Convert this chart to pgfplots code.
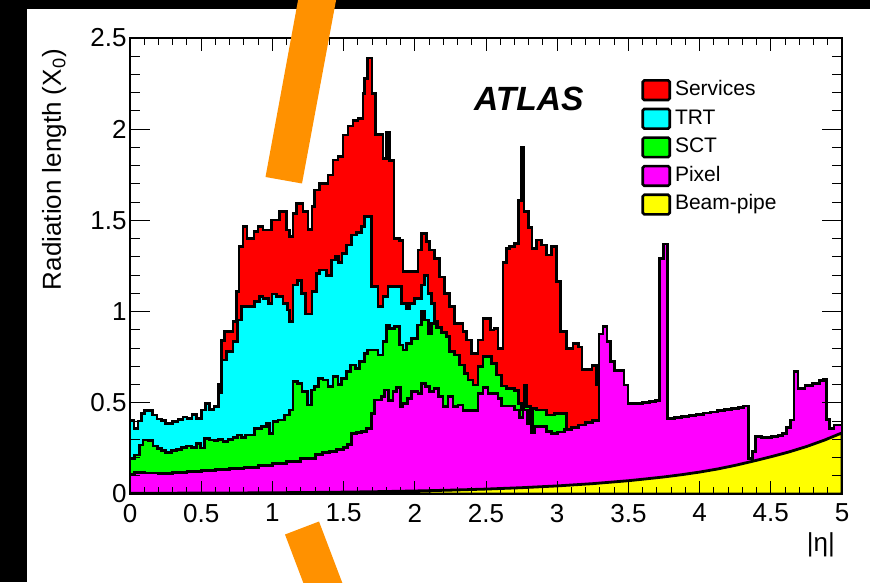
\documentclass[border=0pt]{standalone}
\usepackage{fontspec}
\setmainfont{Liberation Sans}
\usepackage{pgfplots}
\pgfplotsset{compat=1.18}
\definecolor{barorange}{RGB}{255,145,0}
\definecolor{rootred}{RGB}{255,0,0}
\definecolor{rootcyan}{RGB}{0,255,255}
\definecolor{rootgreen}{RGB}{0,255,0}
\definecolor{rootmagenta}{RGB}{255,0,255}
\definecolor{rootyellow}{RGB}{255,255,0}
\begin{document}
\begin{tikzpicture}
\useasboundingbox (0pt,0pt) rectangle (435pt,291pt);
\fill[black] (0pt,0pt) rectangle (435pt,291pt);
\fill[white] (13.5pt,0pt) rectangle (435pt,286.5pt);
\begin{axis}[
  at={(65pt,44pt)}, anchor=south west,
  width=356pt, height=228pt, scale only axis,
  xmin=0, xmax=5, ymin=0, ymax=2.5,
  xtick={0,0.5,...,5}, ytick={0,0.5,...,2.5},
  minor tick num=4,
  tick align=inside,
  axis on top,
  axis line style={line width=0.9pt},
  every tick/.style={black, line width=0.5pt},
  major x tick style={/pgfplots/major tick length=6.5pt},
  minor x tick style={/pgfplots/minor tick length=3.5pt},
  major y tick style={/pgfplots/major tick length=10pt},
  minor y tick style={/pgfplots/minor tick length=5pt},
  /pgf/number format/assume math mode=true,
  ticklabel style={font=\fontsize{13}{15}\selectfont},
  xticklabel style={yshift=-1.5pt},
  yticklabel style={xshift=1.8pt},
  xlabel={|η|},
  xlabel style={at={(axis description cs:1,-0.127)}, anchor=base east, font=\fontsize{13}{15}\selectfont},
  ylabel={Radiation length (X\textsubscript{0})},
  ylabel style={at={(axis description cs:-0.097,0.991)}, anchor=base east, font=\fontsize{13}{15}\selectfont},
  legend style={at={(axis description cs:0.7177,0.9167)}, anchor=north west, draw=none, fill=none,
    font=\fontsize{10.5}{12.6}\selectfont, inner sep=0pt, row sep=0.5pt,
    nodes={text height=7.6pt, text depth=2.2pt, inner sep=2pt}},
  legend cell align=left,
  legend image code/.code={\draw[#1, line width=1.3pt, rounded corners=0.8pt] (0pt,-4.9pt) rectangle (13.5pt,4.9pt);},
]
% Services (total)
\addplot[const plot, fill=rootred, draw=black, line width=1.4pt] coordinates {
(0,0.406) (0.028,0.36) (0.056,0.40) (0.08,0.442) (0.103,0.457) (0.16,0.433) (0.19,0.411) (0.22,0.402)
(0.25,0.387) (0.30,0.398) (0.337,0.407) (0.372,0.422) (0.40,0.415) (0.435,0.437) (0.466,0.415) (0.50,0.46)
(0.53,0.497) (0.56,0.464) (0.59,0.479) (0.62,0.603) (0.64,0.84) (0.665,0.89) (0.723,0.945) (0.747,1.11)
(0.765,1.356) (0.794,1.466) (0.822,1.40) (0.871,1.438) (0.899,1.466) (0.934,1.447) (0.993,1.502) (1.051,1.548)
(1.098,1.447) (1.121,1.41) (1.145,1.539) (1.168,1.594) (1.215,1.548) (1.25,1.45) (1.278,1.575) (1.297,1.667)
(1.332,1.703) (1.39,1.749) (1.426,1.831) (1.461,1.85) (1.496,1.968) (1.531,2.018) (1.566,2.047) (1.601,2.06)
(1.636,2.197) (1.648,2.28) (1.67,2.39) (1.70,2.197) (1.723,1.972) (1.777,1.84) (1.80,1.98) (1.824,1.83)
(1.854,1.40) (1.894,1.39) (1.917,1.219) (2.022,1.338) (2.046,1.429) (2.081,1.383) (2.104,1.338) (2.14,1.29)
(2.175,1.19) (2.21,1.10) (2.245,1.027) (2.28,0.936) (2.338,0.89) (2.362,0.844) (2.397,0.771) (2.444,0.844)
(2.479,0.963) (2.533,0.899) (2.556,0.908) (2.584,0.799) (2.619,1.268) (2.643,1.347) (2.666,1.356) (2.701,1.374)
(2.729,1.608) (2.748,1.90) (2.767,1.548) (2.80,1.46) (2.823,1.347) (2.854,1.393) (2.889,1.365) (2.924,1.31)
(2.959,1.356) (2.994,1.164) (3.024,0.89) (3.064,0.799) (3.111,0.826) (3.15,0.806) (3.174,0.683) (3.244,0.706)
(3.275,0.60) (3.294,0.60)
} \closedcycle;
\addlegendentry{Services}
% TRT (cumulative)
\addplot[const plot, fill=rootcyan, draw=black, line width=1.4pt] coordinates {
(0,0.406) (0.028,0.36) (0.056,0.40) (0.08,0.442) (0.103,0.457) (0.16,0.433) (0.19,0.411) (0.22,0.402)
(0.25,0.387) (0.30,0.398) (0.337,0.407) (0.372,0.422) (0.40,0.415) (0.435,0.437) (0.466,0.415) (0.50,0.46)
(0.53,0.497) (0.56,0.464) (0.59,0.479) (0.62,0.556) (0.64,0.735) (0.677,0.78) (0.723,0.835) (0.754,0.954)
(0.782,1.027) (0.875,1.054) (0.911,1.082) (0.934,1.073) (0.974,1.045) (0.997,1.096) (1.028,1.082) (1.074,1.045)
(1.105,1.009) (1.121,0.945) (1.145,1.146) (1.175,1.17) (1.203,1.10) (1.231,0.987) (1.278,1.109) (1.309,1.21)
(1.332,1.228) (1.379,1.20) (1.414,1.283) (1.442,1.305) (1.465,1.268) (1.489,1.32) (1.519,1.365) (1.554,1.42)
(1.589,1.433) (1.625,1.466) (1.648,1.52) (1.695,1.137) (1.742,1.027) (1.777,1.082) (1.812,1.137) (1.905,1.045)
(1.94,1.018) (1.964,1.045) (1.999,1.073) (2.046,1.146) (2.07,1.20) (2.093,1.10) (2.116,1.045) (2.14,0.945)
(2.163,0.945)
} \closedcycle;
\addlegendentry{TRT}
% SCT (cumulative)
\addplot[const plot, fill=rootgreen, draw=black, line width=1.4pt] coordinates {
(0,0.196) (0.033,0.214) (0.068,0.269) (0.091,0.296) (0.126,0.292) (0.162,0.263) (0.192,0.25) (0.22,0.238)
(0.25,0.227) (0.29,0.238) (0.325,0.245) (0.36,0.254) (0.396,0.263) (0.431,0.256) (0.466,0.278) (0.496,0.252)
(0.524,0.305) (0.559,0.296) (0.59,0.292) (0.618,0.30) (0.653,0.287) (0.688,0.30) (0.723,0.311) (0.754,0.323)
(0.782,0.311) (0.81,0.323) (0.875,0.36) (0.922,0.369) (0.957,0.387) (0.981,0.333) (1.004,0.397) (1.039,0.406)
(1.086,0.433) (1.121,0.461) (1.145,0.616) (1.175,0.607) (1.208,0.561) (1.245,0.488) (1.273,0.57) (1.297,0.588)
(1.325,0.634) (1.355,0.625) (1.39,0.588) (1.426,0.643) (1.461,0.60) (1.484,0.634) (1.519,0.671) (1.55,0.707)
(1.583,0.689) (1.613,0.726) (1.648,0.771) (1.667,0.79) (1.742,0.762) (1.777,0.835) (1.80,0.927) (1.824,0.908)
(1.859,0.917) (1.894,0.817) (1.917,0.79) (1.94,0.826) (1.976,0.853) (2.018,0.927) (2.046,1.0) (2.07,0.954)
(2.098,0.88) (2.116,0.936) (2.151,0.914) (2.186,0.885) (2.221,0.863) (2.245,0.78) (2.28,0.762) (2.315,0.707)
(2.35,0.662) (2.374,0.625) (2.409,0.598) (2.444,0.698) (2.479,0.753) (2.538,0.716) (2.573,0.652) (2.608,0.592)
(2.643,0.579) (2.701,0.567) (2.729,0.497) (2.748,0.464) (2.767,0.598) (2.783,0.479) (2.813,0.342) (2.83,0.47)
(2.854,0.461) (2.924,0.433) (2.983,0.442) (3.064,0.442)
} \closedcycle;
\addlegendentry{SCT}
% Pixel (cumulative)
\addplot[const plot, fill=rootmagenta, draw=black, line width=1.4pt] coordinates {
(0,0.108) (0.03,0.117) (0.1,0.115) (0.2,0.113) (0.3,0.118) (0.4,0.122) (0.5,0.128) (0.6,0.133)
(0.7,0.14) (0.8,0.147) (0.9,0.157) (1.0,0.167) (1.1,0.18) (1.2,0.195) (1.3,0.218) (1.35,0.228)
(1.4,0.232) (1.45,0.245) (1.5,0.255) (1.53,0.27) (1.554,0.333) (1.59,0.338) (1.625,0.342) (1.66,0.36)
(1.695,0.442) (1.718,0.515) (1.765,0.534) (1.788,0.57) (1.816,0.512) (1.847,0.561) (1.87,0.585) (1.898,0.479)
(1.917,0.497) (1.948,0.524) (1.976,0.561) (2.022,0.552) (2.046,0.607) (2.074,0.588) (2.104,0.561) (2.135,0.579)
(2.167,0.534) (2.198,0.479) (2.233,0.534) (2.268,0.479) (2.304,0.488) (2.338,0.457) (2.444,0.552) (2.479,0.585)
(2.514,0.552) (2.584,0.524) (2.608,0.482) (2.701,0.461) (2.736,0.42) (2.76,0.461) (2.79,0.387) (2.818,0.336)
(2.842,0.369) (2.924,0.342) (2.959,0.333) (3.0,0.34) (3.05,0.352) (3.1,0.365) (3.15,0.378) (3.2,0.39)
(3.25,0.403) (3.294,0.877) (3.322,0.917) (3.35,0.835) (3.375,0.726) (3.40,0.676) (3.469,0.598) (3.497,0.494)
(3.55,0.498) (3.60,0.503) (3.65,0.507) (3.69,0.511) (3.72,1.292) (3.745,1.371) (3.775,0.413) (3.825,0.419)
(3.875,0.425) (3.925,0.431) (3.975,0.438) (4.025,0.444) (4.075,0.450) (4.125,0.457) (4.175,0.463) (4.225,0.469)
(4.275,0.476) (4.31,0.482) (4.345,0.196) (4.369,0.232) (4.392,0.314) (4.434,0.311) (4.504,0.314) (4.55,0.322)
(4.58,0.33) (4.61,0.364) (4.64,0.406) (4.663,0.671) (4.691,0.58) (4.74,0.594) (4.79,0.607) (4.84,0.621)
(4.87,0.63) (4.89,0.409) (4.914,0.36) (4.944,0.378) (5.0,0.378)
} \closedcycle;
\addlegendentry{Pixel}
% Beam-pipe
\addplot[fill=rootyellow, draw=black, line width=1.4pt] coordinates {
(0,0.0044) (0.25,0.0045) (0.5,0.005) (0.75,0.0057) (1.0,0.0068) (1.25,0.0083) (1.5,0.0103) (1.75,0.013)
(2.0,0.0166) (2.25,0.0211) (2.5,0.027) (2.75,0.0346) (3.0,0.0443) (3.25,0.0568) (3.5,0.0729) (3.625,0.083)
(3.75,0.0936) (3.875,0.106) (4.0,0.1202) (4.125,0.137) (4.25,0.157) (4.375,0.18) (4.5,0.204) (4.625,0.23)
(4.75,0.26) (4.875,0.295) (5.0,0.335)
} \closedcycle;
\addlegendentry{Beam-pipe}
\node[anchor=base west, font=\fontsize{16.8}{20}\selectfont\bfseries\itshape] at (axis cs:2.367,2.1) {ATLAS};
\end{axis}
\fill[barorange] (149.5pt,293.5pt) -- (168.5pt,293.5pt) -- (151pt,199.25pt) -- (132.75pt,202.5pt) -- cycle;
\fill[barorange] (142.5pt,23.75pt) -- (159.5pt,30.25pt) -- (174.4pt,-9pt) -- (154.9pt,-9pt) -- cycle;
\end{tikzpicture}
\end{document}
